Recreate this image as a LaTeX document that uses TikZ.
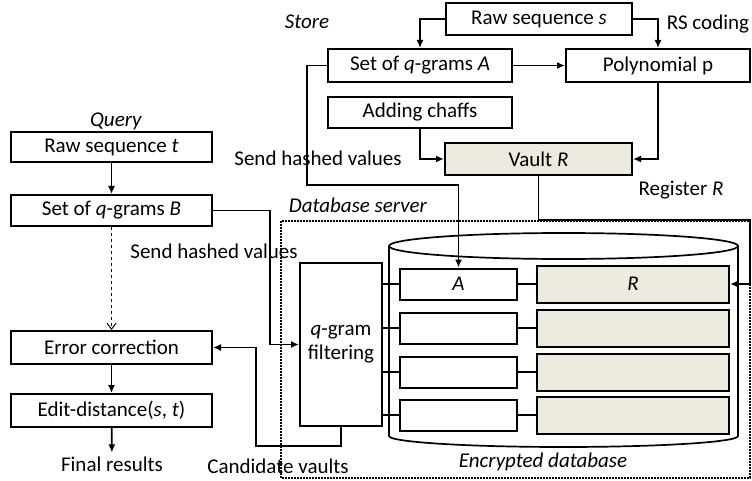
\documentclass[tikz,border=0pt]{standalone}
\usepackage{fontspec}
\setmainfont{Carlito}
\usetikzlibrary{arrows.meta}
\definecolor{vaultfill}{RGB}{237,234,224}
\begin{document}
\begin{tikzpicture}[x=1pt, y=-1pt, line width=1.7pt,
    font=\fontsize{21}{24}\selectfont,
    box/.style={draw, line width=2pt, inner sep=0pt, minimum height=32pt},
    vbox/.style={box, fill=vaultfill},
    arr/.style={-{Latex[length=8pt,width=7pt]}}]
  \useasboundingbox (0,0) rectangle (752,481);
  % store side
  \node at (307,22) (store) {\textit{Store}};
  \node[box, minimum width=186pt] (rawS) at (539,19) {Raw sequence \textit{s}};
  \node at (708,24) (rs) {RS coding};
  \node[box, minimum width=184pt, minimum height=33pt] (setA) at (420,65.5) {Set of \textit{q}-grams \textit{A}};
  \node[box, minimum width=184pt, minimum height=33pt] (poly) at (658,65.5) {Polynomial p};
  \node[box, minimum width=184pt, minimum height=31pt] (chaff) at (420,112.5) {Adding chaffs};
  \node[vbox, minimum width=187pt] (vault) at (538.5,159) {Vault \textit{R}};
  \node at (318,158) (send1) {Send hashed values};
  \node at (681,190) (reg) {Register \textit{R}};
  \draw[arr] (rawS.west) -| (setA.north);
  \draw[arr] (rawS.east) -| (poly.north);
  \draw[arr] (setA) -- (poly);
  \draw[arr] (chaff.south) |- (vault.west);
  \draw[arr] (poly.south) |- (vault.east);

  % query side
  \node at (116,121) (query) {\textit{Query}};
  \node[box, minimum width=201pt, minimum height=30pt] (rawT) at (111.5,147) {Raw sequence \textit{t}};
  \node[box, minimum width=201pt, minimum height=31pt] (setB) at (111.5,210.5) {Set of \textit{q}-grams \textit{B}};
  \node[box, minimum width=201pt, minimum height=33pt] (errc) at (111.5,347.5) {Error correction};
  \node[box, minimum width=201pt, minimum height=33pt] (edit) at (111.5,410.5) {Edit-distance(\textit{s}, \textit{t})};
  \node at (112,464) (final) {Final results};
  \node at (214,251) (send2) {Send hashed values};
  \node at (278,466) (cand) {Candidate vaults};
  \draw[arr] (rawT) -- (setB);
  \draw[dashed, line width=1pt, -{Straight Barb[length=6pt,width=9pt]}] (setB) -- (errc);
  \draw[arr] (errc) -- (edit);
  \draw[arr] (edit) -- (final);

  % database server
  \draw[densely dotted, line width=2pt] (281,221) rectangle (750,478);
  \node at (358,205) (server) {\textit{Database server}};
  \draw (563.5,246) ellipse [x radius=174.5pt, y radius=13pt];
  \draw (389,246) -- (389,436) arc[start angle=180, end angle=360, x radius=174.5pt, y radius=11pt] -- (738,246);
  \node at (543,462) (encdb) {\textit{Encrypted database}};
  \node[box, minimum width=82pt, minimum height=163pt, align=center, fill=white] (filt) at (341,344.5) {\textit{q}-gram\\filtering};
  \foreach \i/\y in {1/284, 2/328, 3/372, 4/415} {
    \node[box, minimum width=117pt, minimum height=31pt, fill=white] (a\i) at (458.5,\y) {};
    \node[vbox, minimum width=192pt, minimum height=37pt] (r\i) at (633,\y) {};
    \draw (a\i) -- (r\i);
    \draw (a\i.west -| filt.east) -- (a\i.west);
  }
  \node at (a1) {\textit{A}};
  \node at (r1) {\textit{R}};

  \draw[arr] (setA.west) -| (307,185) -| (a1.north);
  \draw[arr] (vault.south) |- (750,220) |- (r1.east);
  \draw[arr] (setB.east) -| (270,344.5) -- (filt.west);
  \draw[arr] (filt.south) |- (256,446) |- (errc.east);
\end{tikzpicture}
\end{document}
